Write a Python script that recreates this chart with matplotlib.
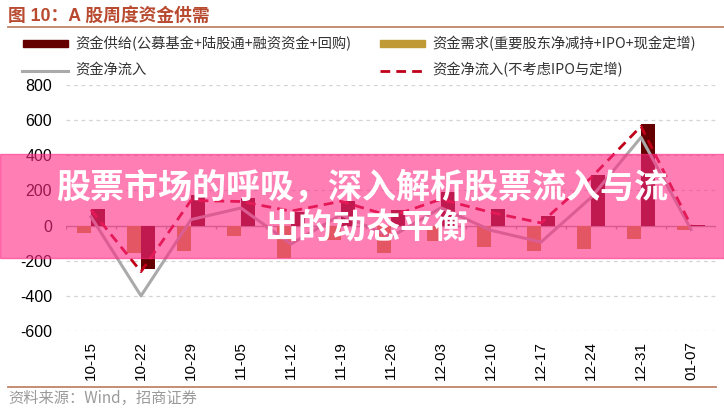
import matplotlib
matplotlib.use("Agg")
import matplotlib.pyplot as plt
from matplotlib.patches import Rectangle
from matplotlib.lines import Line2D
import numpy as np

plt.rcParams['font.family'] = ['Liberation Sans', 'Noto Sans CJK SC', 'DejaVu Sans']

categories = ['10-15', '10-22', '10-29', '11-05', '11-12', '11-19', '11-26',
              '12-03', '12-10', '12-17', '12-24', '12-31', '01-07']
supply = [95, -245, 176, 158, 78, 142, 91, 190, 96, 52, 290, 578, 5]
demand = [-45, -155, -142, -58, -183, -80, -155, -89, -123, -146, -131, -76, -27]
net_inflow = [50, -400, 34, 100, -105, 62, -64, 101, -27, -94, 159, 502, -22]
net_inflow_ex = [90, -262, 143, 137, 82, 138, 53, 150, 75, 15, 272, 565, 0]
yticks = [-600, -400, -200, 0, 200, 400, 600, 800]

title = '图 10：A 股周度资金供需'
source = '资料来源：Wind，招商证券'
leg_supply = '资金供给(公募基金+陆股通+融资资金+回购)'
leg_demand = '资金需求(重要股东净减持+IPO+现金定增)'
leg_net = '资金净流入'
leg_net_ex = '资金净流入(不考虑IPO与定增)'
banner_1 = '股票市场的呼吸，深入解析股票流入与流'
banner_2 = '出的动态平衡'

C_SUPPLY = '#640000'
C_DEMAND = '#C09A35'
C_NET = '#AAAAAA'
C_NET_EX = '#C00018'
C_BROWN = '#C08468'

W, H = 724, 412
fig = plt.figure(figsize=(W / 100, H / 100), dpi=100)

def fx(px):
    return px / W

def fy(py):
    return 1 - py / H

ax = fig.add_axes([fx(66), fy(331), fx(716) - fx(66), fy(85) - fy(331)])
x = np.arange(len(categories))
bw = 0.28
ax.bar(x - bw / 2, demand, width=bw, color=C_DEMAND, zorder=3)
ax.bar(x + bw / 2, supply, width=bw, color=C_SUPPLY, zorder=3)
ax.plot(x, net_inflow, color=C_NET, lw=2.2, zorder=4)
ax.plot(x, net_inflow_ex, color=C_NET_EX, lw=2.0, ls=(0, (3.5, 2.2)), zorder=5)

ax.set_xlim(-0.5, len(categories) - 0.5)
ax.set_ylim(-600, 800)
ax.set_yticks(yticks)
ax.set_yticklabels([str(v) for v in yticks], fontsize=11.5)
for v in yticks:
    if v != 0:
        ax.axhline(v, color='#D4D4D4', lw=0.9, ls=(0, (3, 3)), zorder=1)
ax.axhline(0, color='#A0A0A0', lw=1.0, zorder=2)
ax.vlines(np.arange(len(categories) + 1) - 0.5, -22, 0, color='#A0A0A0', lw=1.0, zorder=2)

ax.set_xticks(x)
ax.set_xticklabels(categories, rotation=90, fontsize=11)
ax.tick_params(axis='both', length=0)
ax.tick_params(axis='y', pad=10)
ax.tick_params(axis='x', pad=7)
for s in ax.spines.values():
    s.set_visible(False)

# title and rules
fig.text(fx(8), fy(16), title, fontsize=12.8, fontweight='bold', color='#B84A30',
         va='center', ha='left', family=['Liberation Sans', 'Noto Sans CJK SC'])
fig.add_artist(Line2D([fx(8), fx(724)], [fy(27), fy(27)], color=C_BROWN, lw=1.3))
fig.add_artist(Line2D([fx(8), fx(716)], [fy(387), fy(387)], color=C_BROWN, lw=1.3))
fig.text(fx(8), fy(398), source, fontsize=11, color='#9A9A9A', va='center', ha='left',
         family=['Noto Sans CJK SC', 'DejaVu Sans'])

# legend
lfam = ['Noto Sans CJK SC', 'DejaVu Sans']
fig.add_artist(Rectangle((fx(23), fy(47)), fx(68) - fx(23), fy(40) - fy(47), color=C_SUPPLY))
fig.text(fx(75), fy(44), leg_supply, fontsize=10.3, color='#333333', va='center', family=lfam)
fig.add_artist(Rectangle((fx(380), fy(47)), fx(425) - fx(380), fy(40) - fy(47), color=C_DEMAND))
fig.text(fx(432), fy(44), leg_demand, fontsize=10.3, color='#333333', va='center', family=lfam)
fig.add_artist(Line2D([fx(22), fx(68)], [fy(71), fy(71)], color=C_NET, lw=2.2))
fig.text(fx(75), fy(70), leg_net, fontsize=10.3, color='#333333', va='center', family=lfam)
fig.add_artist(Line2D([fx(380), fx(425)], [fy(71), fy(71)], color=C_NET_EX, lw=2.0,
                      ls=(0, (3.5, 2.2))))
fig.text(fx(432), fy(70), leg_net_ex, fontsize=10.3, color='#333333', va='center', family=lfam)

# banner overlay
banner = Rectangle((0, fy(258)), 1, fy(154) - fy(258), transform=fig.transFigure,
                   color='#FF2A84', alpha=0.6, zorder=10)
fig.add_artist(banner)
bfam = ['Noto Sans CJK SC', 'DejaVu Sans']
fig.text(fx(362), fy(187), banner_1, fontsize=24.5, fontweight='heavy', color='white',
         ha='center', va='center', family=bfam, zorder=11)
fig.text(fx(366), fy(227), banner_2, fontsize=24.5, fontweight='heavy', color='white',
         ha='center', va='center', family=bfam, zorder=11)

fig.savefig('out.png', dpi=100)
